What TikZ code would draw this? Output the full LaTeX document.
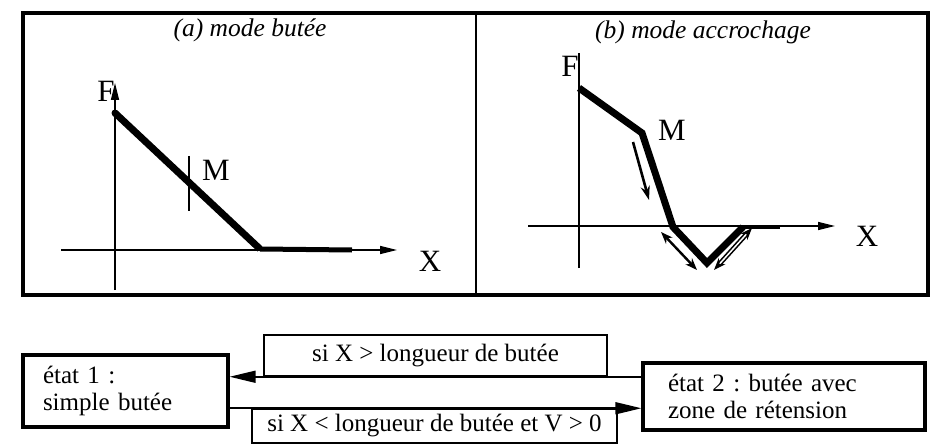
\documentclass[tikz,border=0pt]{standalone}
\usepackage{fontspec}
\setmainfont{Liberation Serif}
\usetikzlibrary{arrows.meta}
\frenchspacing
\begin{document}
\begin{tikzpicture}[x=1pt,y=-1pt,
  frame/.style={line width=4.5pt},
  axis/.style={line width=1.6pt},
  axisarrow/.style={axis,-{Triangle[length=17pt,width=8pt]}},
  curve/.style={line width=7pt,line join=miter},
  small/.style={line width=2.6pt,-{Stealth[length=14pt,width=9pt]}},
  smallboth/.style={line width=2.4pt,{Stealth[length=12pt,width=9pt]}-{Stealth[length=12pt,width=9pt]}},
  lbl/.style={font=\fontsize{31}{32}\selectfont,inner sep=0pt},
  title/.style={font=\itshape\fontsize{25.5}{27}\selectfont,inner sep=0pt},
  state/.style={draw,line width=3.2pt,inner ysep=0pt,align=left,
    font=\fontsize{25}{27}\selectfont},
  cond/.style={draw,line width=1.5pt,inner sep=0pt,
    font=\fontsize{25}{27}\selectfont},
  trans/.style={line width=1.6pt,-{Triangle[length=26pt,width=12pt]}}
]
\useasboundingbox (0,0) rectangle (933,446);
% frame
\draw[frame] (23,13) rectangle (928,295);
\draw[line width=2.2pt] (476,13) -- (476,295);
\node[title] (ta) at (250,30) {(a) mode butée};
\node[title] (tb) at (703,32) {(b) mode accrochage};

% panel a
\coordinate (aFb) at (115,290);
\coordinate (aFt) at (115,83);
\coordinate (aXl) at (61,250);
\coordinate (aXr) at (397,250);
\draw[axisarrow] (aFb) -- (aFt);
\draw[axisarrow] (aXl) -- (aXr);
\coordinate (a1) at (115,113);
\coordinate (a2) at (260,249);
\coordinate (a3) at (352,250);
\draw[curve] (a1) -- (a2);
\draw[line width=5pt] (a2) -- (a3);
\fill (a1) circle (3.5pt);
\coordinate (aTt) at (189,156);
\coordinate (aTb) at (189,211);
\draw[axis] (aTt) -- (aTb);
\node[lbl] (aF) at (106,91) {F};
\node[lbl] (aM) at (216,170) {M};
\node[lbl] (aX) at (430,261) {X};

% panel b
\coordinate (bFb) at (579,268);
\coordinate (bFt) at (579,53);
\coordinate (bXl) at (528,226);
\coordinate (bXr) at (835,226);
\draw[axis] (bFb) -- (bFt);
\draw[axisarrow] (bXl) -- (bXr);
\coordinate (b1) at (579,88);
\coordinate (b2) at (642,133);
\coordinate (b3) at (673,227);
\coordinate (b4) at (707,263);
\coordinate (b5) at (743,227);
\coordinate (b6) at (780,227);
\draw[curve] (b1) -- (b2) -- (b3) -- (b4) -- (b5);
\draw[line width=4pt] (b5) -- (b6);
\node[lbl] (bF) at (570,66) {F};
\node[lbl] (bM) at (672,130) {M};
\node[lbl] (bX) at (867,236) {X};
\coordinate (ar1s) at (633,142);
\coordinate (ar1e) at (649,200);
\draw[small] (ar1s) -- (ar1e);
\coordinate (ar2s) at (661,232);
\coordinate (ar2e) at (697,270);
\draw[smallboth] (ar2s) -- (ar2e);
\coordinate (ar3s) at (714,270);
\coordinate (ar3e) at (752,228);
\draw[smallboth,double=white,double distance=1.5pt,line width=1.6pt] (ar3s) -- (ar3e);

% state machine
\node[state,minimum width=205pt,minimum height=72pt,text width=165pt,inner xsep=20pt] (s1) at (125.5,391) {état 1 :\\simple butée};
\node[state,minimum width=282pt,minimum height=67pt,text width=232pt,inner xsep=25pt] (s2) at (784,396.5) {état 2 : butée avec\\zone de rétension};
\node[cond,minimum width=343pt,minimum height=41pt] (c1) at (435.5,355.5) {si X > longueur de butée};
\node[cond,minimum width=365pt,minimum height=34pt] (c2) at (434.5,426) {si X < longueur de butée et V > 0};
\draw[trans] (s2.west |- c1.south) -- (s1.east |- c1.south);
\draw[trans] (s1.east |- c2.north) -- (s2.west |- c2.north);
\end{tikzpicture}
\end{document}
